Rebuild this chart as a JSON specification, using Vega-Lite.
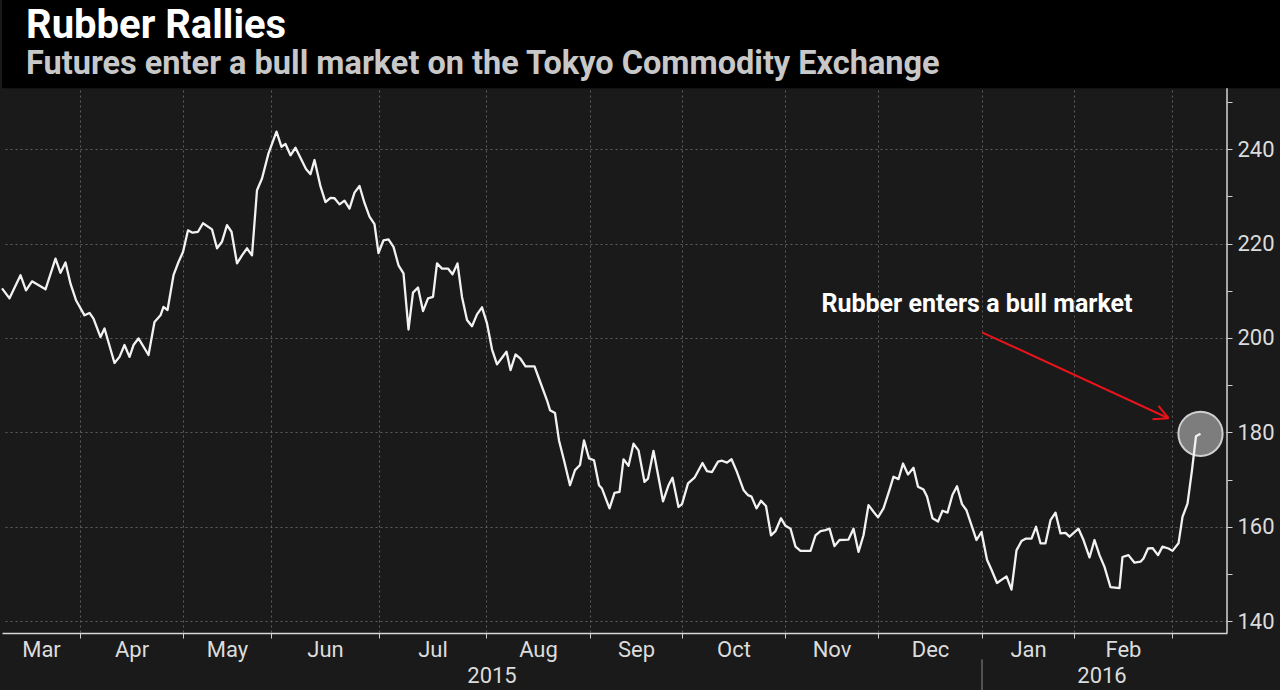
{
  "$schema": "https://vega.github.io/schema/vega-lite/v6.json",
  "background": "#1a1a1a",
  "padding": 0,
  "width": 1225,
  "height": 633,
  "config": {"view": {"stroke": null}},
  "title": {
    "text": "Rubber Rallies",
    "subtitle": "Futures enter a bull market on the Tokyo Commodity Exchange",
    "anchor": "start",
    "frame": "group",
    "offset": -80.5,
    "dx": 24,
    "font": "Roboto",
    "fontSize": 40,
    "fontWeight": "bold",
    "color": "#ffffff",
    "subtitleFont": "Roboto",
    "subtitleFontSize": 32.5,
    "subtitleFontWeight": "bold",
    "subtitleColor": "#c8c8c8",
    "subtitlePadding": 2
  },
  "data": {
    "values": [
      {"t": 0.0, "v": 210.5}, {"t": 1.5, "v": 208.4}, {"t": 3.7, "v": 213.3}, {"t": 4.8, "v": 210.1},
      {"t": 6.0, "v": 212.0}, {"t": 8.7, "v": 210.3}, {"t": 10.7, "v": 216.8}, {"t": 11.7, "v": 213.8},
      {"t": 12.7, "v": 216.0}, {"t": 13.7, "v": 211.5}, {"t": 14.8, "v": 208.0}, {"t": 16.5, "v": 204.8},
      {"t": 17.5, "v": 205.3}, {"t": 18.3, "v": 204.1}, {"t": 19.7, "v": 200.2}, {"t": 20.5, "v": 202.0},
      {"t": 22.5, "v": 194.7}, {"t": 23.5, "v": 196.0}, {"t": 24.5, "v": 198.5}, {"t": 25.5, "v": 196.0},
      {"t": 26.3, "v": 198.5}, {"t": 27.3, "v": 199.9}, {"t": 29.3, "v": 196.4}, {"t": 30.5, "v": 203.4},
      {"t": 31.7, "v": 204.8}, {"t": 32.3, "v": 206.6}, {"t": 33.1, "v": 205.9}, {"t": 34.3, "v": 213.3},
      {"t": 35.3, "v": 216.1}, {"t": 36.2, "v": 218.2}, {"t": 37.2, "v": 222.8}, {"t": 38.1, "v": 222.3},
      {"t": 39.2, "v": 222.5}, {"t": 40.2, "v": 224.3}, {"t": 42.0, "v": 223.0}, {"t": 43.0, "v": 219.0},
      {"t": 44.0, "v": 220.4}, {"t": 45.0, "v": 223.9}, {"t": 45.9, "v": 222.5}, {"t": 47.0, "v": 215.8},
      {"t": 48.0, "v": 217.5}, {"t": 49.0, "v": 219.0}, {"t": 50.0, "v": 217.5}, {"t": 51.0, "v": 231.3},
      {"t": 52.0, "v": 233.8}, {"t": 53.3, "v": 239.1}, {"t": 54.9, "v": 243.7}, {"t": 55.9, "v": 240.5},
      {"t": 56.7, "v": 241.1}, {"t": 57.7, "v": 238.7}, {"t": 58.7, "v": 240.3}, {"t": 60.8, "v": 235.8},
      {"t": 61.7, "v": 234.7}, {"t": 62.5, "v": 237.7}, {"t": 63.7, "v": 232.1}, {"t": 64.7, "v": 228.8},
      {"t": 65.7, "v": 229.7}, {"t": 66.5, "v": 229.6}, {"t": 67.5, "v": 228.3}, {"t": 68.5, "v": 229.1},
      {"t": 69.5, "v": 227.4}, {"t": 70.5, "v": 230.8}, {"t": 71.5, "v": 232.2}, {"t": 72.5, "v": 228.6},
      {"t": 73.5, "v": 225.7}, {"t": 74.5, "v": 224.1}, {"t": 75.3, "v": 218.0}, {"t": 76.3, "v": 220.7},
      {"t": 77.3, "v": 220.9}, {"t": 78.3, "v": 219.3}, {"t": 79.3, "v": 215.4}, {"t": 80.3, "v": 213.7},
      {"t": 81.3, "v": 201.8}, {"t": 82.2, "v": 209.6}, {"t": 83.2, "v": 210.7}, {"t": 84.2, "v": 205.7},
      {"t": 85.2, "v": 208.4}, {"t": 86.2, "v": 208.7}, {"t": 87.0, "v": 215.8}, {"t": 88.0, "v": 214.7},
      {"t": 89.2, "v": 214.7}, {"t": 90.1, "v": 213.5}, {"t": 91.1, "v": 215.8}, {"t": 92.0, "v": 208.7},
      {"t": 93.0, "v": 203.8}, {"t": 94.0, "v": 202.5}, {"t": 95.0, "v": 205.0}, {"t": 96.0, "v": 206.5},
      {"t": 97.0, "v": 203.1}, {"t": 98.0, "v": 197.6}, {"t": 99.0, "v": 194.4}, {"t": 100.0, "v": 195.8},
      {"t": 100.9, "v": 197.1}, {"t": 101.7, "v": 193.2}, {"t": 102.7, "v": 196.5}, {"t": 103.7, "v": 195.6},
      {"t": 104.7, "v": 194.0}, {"t": 106.5, "v": 194.0}, {"t": 107.5, "v": 191.1}, {"t": 109.0, "v": 186.8},
      {"t": 109.6, "v": 184.7}, {"t": 110.6, "v": 184.1}, {"t": 111.4, "v": 178.3}, {"t": 112.4, "v": 174.1},
      {"t": 113.6, "v": 168.8}, {"t": 114.6, "v": 172.0}, {"t": 115.6, "v": 173.1}, {"t": 116.4, "v": 178.3},
      {"t": 117.4, "v": 174.5}, {"t": 118.4, "v": 174.1}, {"t": 119.4, "v": 168.8}, {"t": 120.0, "v": 168.1},
      {"t": 121.5, "v": 163.9}, {"t": 122.5, "v": 167.2}, {"t": 123.5, "v": 167.4}, {"t": 124.3, "v": 174.3},
      {"t": 125.3, "v": 172.9}, {"t": 126.3, "v": 177.6}, {"t": 127.3, "v": 176.2}, {"t": 128.5, "v": 169.5},
      {"t": 129.2, "v": 170.2}, {"t": 130.3, "v": 176.1}, {"t": 132.2, "v": 165.4}, {"t": 133.3, "v": 168.8},
      {"t": 134.1, "v": 170.4}, {"t": 135.3, "v": 164.2}, {"t": 136.0, "v": 164.8}, {"t": 137.2, "v": 169.2},
      {"t": 138.5, "v": 170.4}, {"t": 140.1, "v": 173.5}, {"t": 141.0, "v": 171.8}, {"t": 142.0, "v": 171.6},
      {"t": 143.2, "v": 173.8}, {"t": 144.0, "v": 174.0}, {"t": 145.0, "v": 173.6}, {"t": 145.9, "v": 174.3},
      {"t": 147.0, "v": 171.6}, {"t": 148.3, "v": 167.8}, {"t": 149.2, "v": 166.7}, {"t": 149.9, "v": 166.4},
      {"t": 150.9, "v": 163.9}, {"t": 151.8, "v": 165.5}, {"t": 152.8, "v": 164.4}, {"t": 153.8, "v": 158.2},
      {"t": 154.7, "v": 159.1}, {"t": 155.8, "v": 161.8}, {"t": 156.7, "v": 160.2}, {"t": 157.7, "v": 159.6},
      {"t": 158.7, "v": 155.8}, {"t": 159.7, "v": 154.9}, {"t": 161.7, "v": 154.9}, {"t": 162.7, "v": 158.2},
      {"t": 163.7, "v": 159.1}, {"t": 164.7, "v": 159.3}, {"t": 165.5, "v": 159.6}, {"t": 166.5, "v": 155.9},
      {"t": 167.5, "v": 157.2}, {"t": 169.3, "v": 157.3}, {"t": 170.3, "v": 159.6}, {"t": 171.3, "v": 154.7},
      {"t": 172.3, "v": 158.2}, {"t": 173.3, "v": 164.6}, {"t": 174.3, "v": 163.2}, {"t": 175.2, "v": 162.0},
      {"t": 176.3, "v": 163.9}, {"t": 177.5, "v": 167.8}, {"t": 178.3, "v": 170.6}, {"t": 179.3, "v": 170.1},
      {"t": 180.2, "v": 173.4}, {"t": 181.2, "v": 171.1}, {"t": 182.3, "v": 172.5}, {"t": 183.2, "v": 168.5},
      {"t": 184.3, "v": 167.9}, {"t": 185.0, "v": 166.4}, {"t": 186.1, "v": 161.8}, {"t": 187.2, "v": 161.1},
      {"t": 188.1, "v": 163.4}, {"t": 189.1, "v": 163.0}, {"t": 190.1, "v": 166.8}, {"t": 191.0, "v": 168.6},
      {"t": 192.0, "v": 164.8}, {"t": 192.9, "v": 163.5}, {"t": 194.9, "v": 157.2}, {"t": 195.9, "v": 158.9},
      {"t": 197.0, "v": 153.0}, {"t": 197.9, "v": 150.9}, {"t": 199.0, "v": 148.1}, {"t": 200.9, "v": 149.5},
      {"t": 201.9, "v": 146.7}, {"t": 202.9, "v": 155.0}, {"t": 203.9, "v": 157.0}, {"t": 204.8, "v": 157.5},
      {"t": 205.9, "v": 157.5}, {"t": 206.8, "v": 160.0}, {"t": 207.7, "v": 156.5}, {"t": 208.7, "v": 156.5},
      {"t": 209.7, "v": 161.4}, {"t": 210.7, "v": 163.0}, {"t": 211.7, "v": 158.6}, {"t": 212.7, "v": 158.7},
      {"t": 213.5, "v": 157.9}, {"t": 215.3, "v": 159.6}, {"t": 216.3, "v": 157.2}, {"t": 217.5, "v": 153.5},
      {"t": 218.5, "v": 157.2}, {"t": 219.5, "v": 154.0}, {"t": 220.5, "v": 151.5}, {"t": 221.7, "v": 147.2},
      {"t": 223.5, "v": 147.0}, {"t": 224.1, "v": 153.6}, {"t": 225.3, "v": 154.0}, {"t": 226.5, "v": 152.4},
      {"t": 227.7, "v": 152.6}, {"t": 228.3, "v": 153.3}, {"t": 229.2, "v": 155.4}, {"t": 230.1, "v": 155.5},
      {"t": 231.2, "v": 154.0}, {"t": 232.1, "v": 155.8}, {"t": 233.3, "v": 155.4}, {"t": 234.1, "v": 154.9},
      {"t": 235.3, "v": 156.5}, {"t": 236.1, "v": 162.1}, {"t": 237.1, "v": 164.9}, {"t": 238.0, "v": 172.0},
      {"t": 238.8, "v": 179.2}, {"t": 239.7, "v": 179.7}
    ]
  },
  "layer": [
    {
      "data": {"values": [{"t": 0, "t2": 256, "v": 252.9, "v2": 271.6}]},
      "mark": {"type": "rect", "fill": "#000000", "clip": false},
      "encoding": {
        "x": {
          "field": "t", "type": "quantitative",
          "scale": {"domain": [0, 245], "nice": false, "zero": false},
          "axis": {
            "orient": "bottom", "title": null,
            "values": [7.8, 15.6, 25.9, 36.2, 45, 53.8, 64.6, 75.4, 86.1, 96.8, 107.2, 117.6, 126.8, 136, 146.3, 156.6, 165.9, 175.2, 185.6, 196, 205.2, 214.4, 224.2, 234],
            "labelExpr": "indexof([7.8, 25.9, 45, 64.6, 86.1, 107.2, 126.8, 146.3, 165.9, 185.6, 205.2, 224.2], datum.value) >= 0 ? ['Mar','Apr','May','Jun','Jul','Aug','Sep','Oct','Nov','Dec','Jan','Feb'][indexof([7.8, 25.9, 45, 64.6, 86.1, 107.2, 126.8, 146.3, 165.9, 185.6, 205.2, 224.2], datum.value)] : ''",
            "labelFont": "Roboto", "labelFontSize": 22, "labelColor": "#dcdcdc", "labelPadding": 1,
            "labelFlush": false, "labelOverlap": false, "labelBound": false,
            "ticks": true, "tickSize": 5, "tickColor": "#cfcfcf", "tickWidth": 1,
            "tickOpacity": {"condition": {"test": "indexof([15.6, 36.2, 53.8, 75.4, 96.8, 117.6, 136, 156.6, 175.2, 196, 214.4, 234], datum.value) >= 0", "value": 1}, "value": 0},
            "domain": true, "domainColor": "#d6d6d6", "domainWidth": 1.5,
            "grid": true, "gridColor": "#5e5e5e", "gridDash": [2, 3], "gridWidth": 1,
            "gridOpacity": {"condition": {"test": "indexof([15.6, 36.2, 53.8, 75.4, 96.8, 117.6, 136, 156.6, 175.2, 196, 214.4, 234], datum.value) >= 0", "value": 1}, "value": 0}
          }
        },
        "x2": {"field": "t2"},
        "y": {
          "field": "v", "type": "quantitative",
          "scale": {"domain": [137.5, 271.6], "nice": false, "zero": false},
          "axis": {
            "orient": "right", "title": null,
            "values": [140, 150, 160, 170, 180, 190, 200, 210, 220, 230, 240, 250],
            "labelExpr": "datum.value % 20 == 0 ? datum.label : ''",
            "labelFont": "Roboto", "labelFontSize": 22, "labelColor": "#dcdcdc", "labelPadding": 5, "labelFlush": false,
            "tickSize": 5, "tickColor": "#cfcfcf",
            "domain": false,
            "grid": true, "gridColor": "#5e5e5e", "gridDash": [2, 3],
            "gridOpacity": {"condition": {"test": "datum.value % 20 == 0", "value": 1}, "value": 0}
          }
        },
        "y2": {"field": "v2"}
      }
    },
    {
      "data": {"values": [{"t": 245, "v": 137.5, "v2": 252.9}]},
      "mark": {"type": "rule", "color": "#d6d6d6", "strokeWidth": 1.5},
      "encoding": {
        "x": {"field": "t", "type": "quantitative"},
        "y": {"field": "v", "type": "quantitative"},
        "y2": {"field": "v2"}
      }
    },
    {
      "data": {"values": [{"t": 196, "v": 131.9, "v2": 125.3}]},
      "mark": {"type": "rule", "color": "#8a8a8a", "strokeWidth": 1, "clip": false},
      "encoding": {
        "x": {"field": "t", "type": "quantitative"},
        "y": {"field": "v", "type": "quantitative"},
        "y2": {"field": "v2"}
      }
    },
    {
      "data": {"values": [{"year": "2015", "t": 98, "v": 128.35}, {"year": "2016", "t": 220, "v": 128.35}]},
      "mark": {"type": "text", "font": "Roboto", "fontSize": 22, "color": "#dcdcdc", "align": "center", "baseline": "middle", "clip": false},
      "encoding": {
        "x": {"field": "t", "type": "quantitative"},
        "y": {"field": "v", "type": "quantitative"},
        "text": {"field": "year"}
      }
    },
    {
      "transform": [{"filter": "datum.t == 239.7"}],
      "mark": {"type": "point", "filled": true, "size": 1960, "fill": "#7d7d7d", "fillOpacity": 1, "stroke": "#cfcfcf", "strokeWidth": 2, "strokeOpacity": 1, "opacity": 1},
      "encoding": {
        "x": {"field": "t", "type": "quantitative"},
        "y": {"field": "v", "type": "quantitative"}
      }
    },
    {
      "mark": {"type": "line", "color": "#f2f2f2", "strokeWidth": 2.3, "strokeJoin": "round"},
      "encoding": {
        "x": {"field": "t", "type": "quantitative"},
        "y": {"field": "v", "type": "quantitative"}
      }
    },
    {
      "data": {"values": [
        {"t": 196, "v": 201.2, "t2": 233.3, "v2": 183.0},
        {"t": 230.1, "v": 182.8, "t2": 233.3, "v2": 183.0},
        {"t": 231.3, "v": 185.6, "t2": 233.3, "v2": 183.0}
      ]},
      "mark": {"type": "rule", "color": "#e8141b", "strokeWidth": 2},
      "encoding": {
        "x": {"field": "t", "type": "quantitative"},
        "x2": {"field": "t2"},
        "y": {"field": "v", "type": "quantitative"},
        "y2": {"field": "v2"}
      }
    },
    {
      "data": {"values": [{"t": 195, "v": 207.2, "label": "Rubber enters a bull market"}]},
      "mark": {"type": "text", "font": "Roboto", "fontSize": 25, "fontWeight": "bold", "color": "#ffffff", "align": "center", "baseline": "middle"},
      "encoding": {
        "x": {"field": "t", "type": "quantitative"},
        "y": {"field": "v", "type": "quantitative"},
        "text": {"field": "label"}
      }
    }
  ]
}
